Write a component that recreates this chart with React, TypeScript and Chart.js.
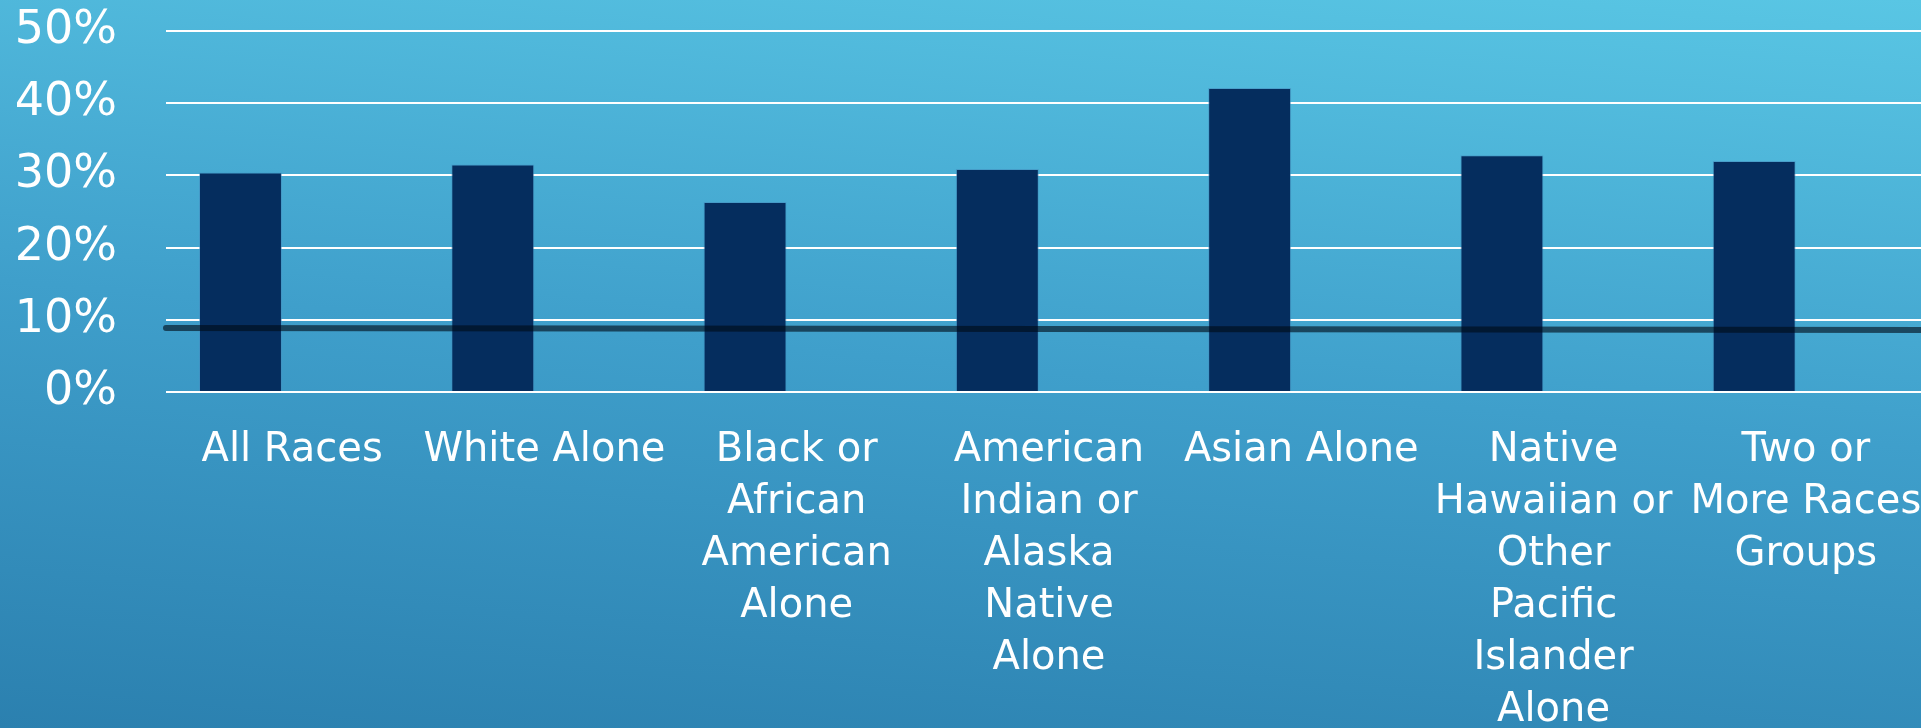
import React, { useEffect, useRef } from "react";
import { Chart, registerables } from "chart.js";

Chart.register(...registerables);

// ---- data ----
const categories: (string | string[])[] = [
  "All Races",
  "White Alone",
  ["Black or", "African", "American", "Alone"],
  ["American", "Indian or", "Alaska", "Native", "Alone"],
  "Asian Alone",
  ["Native", "Hawaiian or", "Other", "Pacific", "Islander", "Alone"],
  ["Two or", "More Races", "Groups"],
];
const shareValues = [30.4, 31.5, 26.3, 30.9, 42.1, 32.8, 32.0];
const hiddenSeries = [null, null, null, null, null, null, null];
const referenceLineX = [0, 1];
const referenceLineY = [8.85, 8.6];
const yTickValues = [0, 10, 20, 30, 40, 50];

const FONT = "'DejaVu Sans', 'Liberation Sans', sans-serif";

export default function App() {
  const canvasRef = useRef<HTMLCanvasElement | null>(null);

  useEffect(() => {
    if (!canvasRef.current) return;
    const chart = new Chart(canvasRef.current, {
      type: "bar",
      data: {
        labels: categories,
        datasets: [
          {
            type: "line",
            data: referenceLineX.map((x, i) => ({ x, y: referenceLineY[i] })),
            xAxisID: "xLine",
            yAxisID: "y",
            borderColor: "rgba(0, 12, 24, 0.62)",
            borderWidth: 6,
            borderCapStyle: "round",
            pointRadius: 0,
            clip: false,
            order: 0,
          } as any,
          {
            type: "bar",
            data: shareValues,
            xAxisID: "x",
            backgroundColor: "#052d5e",
            borderColor: "rgba(70, 140, 190, 0.55)",
            borderWidth: 1,
            categoryPercentage: 1.638,
            barPercentage: 0.803,
            order: 1,
          },
          {
            type: "bar",
            data: hiddenSeries as any,
            xAxisID: "x",
            backgroundColor: "rgba(0,0,0,0)",
            categoryPercentage: 1.638,
            barPercentage: 0.803,
            order: 2,
          },
        ],
      },
      options: {
        responsive: true,
        maintainAspectRatio: false,
        animation: false,
        layout: { padding: { top: 31, left: 0, right: 0, bottom: 0 } },
        plugins: {
          legend: { display: false },
          tooltip: { enabled: false },
        },
        scales: {
          x: {
            type: "category",
            offset: true,
            grid: { display: false },
            border: { display: false },
            ticks: {
              color: "#ffffff",
              font: { family: FONT, size: 40, lineHeight: 1.3 },
              autoSkip: false,
              maxRotation: 0,
              minRotation: 0,
              padding: 25,
            },
            afterFit: (s: any) => {
              s.height = 336;
              s.paddingLeft = 0;
              s.paddingRight = 0;
            },
          },
          xLine: {
            type: "linear",
            display: false,
            offset: false,
            grid: { offset: false },
            min: referenceLineX[0],
            max: referenceLineX[1],
          },
          y: {
            min: yTickValues[0],
            max: yTickValues[yTickValues.length - 1],
            afterBuildTicks: (s: any) => {
              s.ticks = yTickValues.map((v) => ({ value: v }));
            },
            ticks: {
              color: "#ffffff",
              font: { family: FONT, size: 46 },
              padding: 49,
              callback: (v: any) => `${v}%`,
            },
            grid: { color: "#ffffff", lineWidth: 2, drawTicks: false },
            border: { display: false },
            afterFit: (s: any) => {
              s.width = 166;
              s.paddingTop = 0;
              s.paddingBottom = 0;
            },
          },
        },
      } as any,
    });
    return () => chart.destroy();
  }, []);

  return (
    <div
      style={{
        position: "fixed",
        left: 0,
        top: 0,
        width: 1921,
        height: 728,
        overflow: "hidden",
        background: "linear-gradient(5deg, #2b80af 0%, #3f9fcb 50%, #59c6e4 100%)",
      }}
    >
      <div style={{ position: "relative", width: 1932, height: 728 }}>
        <canvas ref={canvasRef} />
      </div>
    </div>
  );
}
